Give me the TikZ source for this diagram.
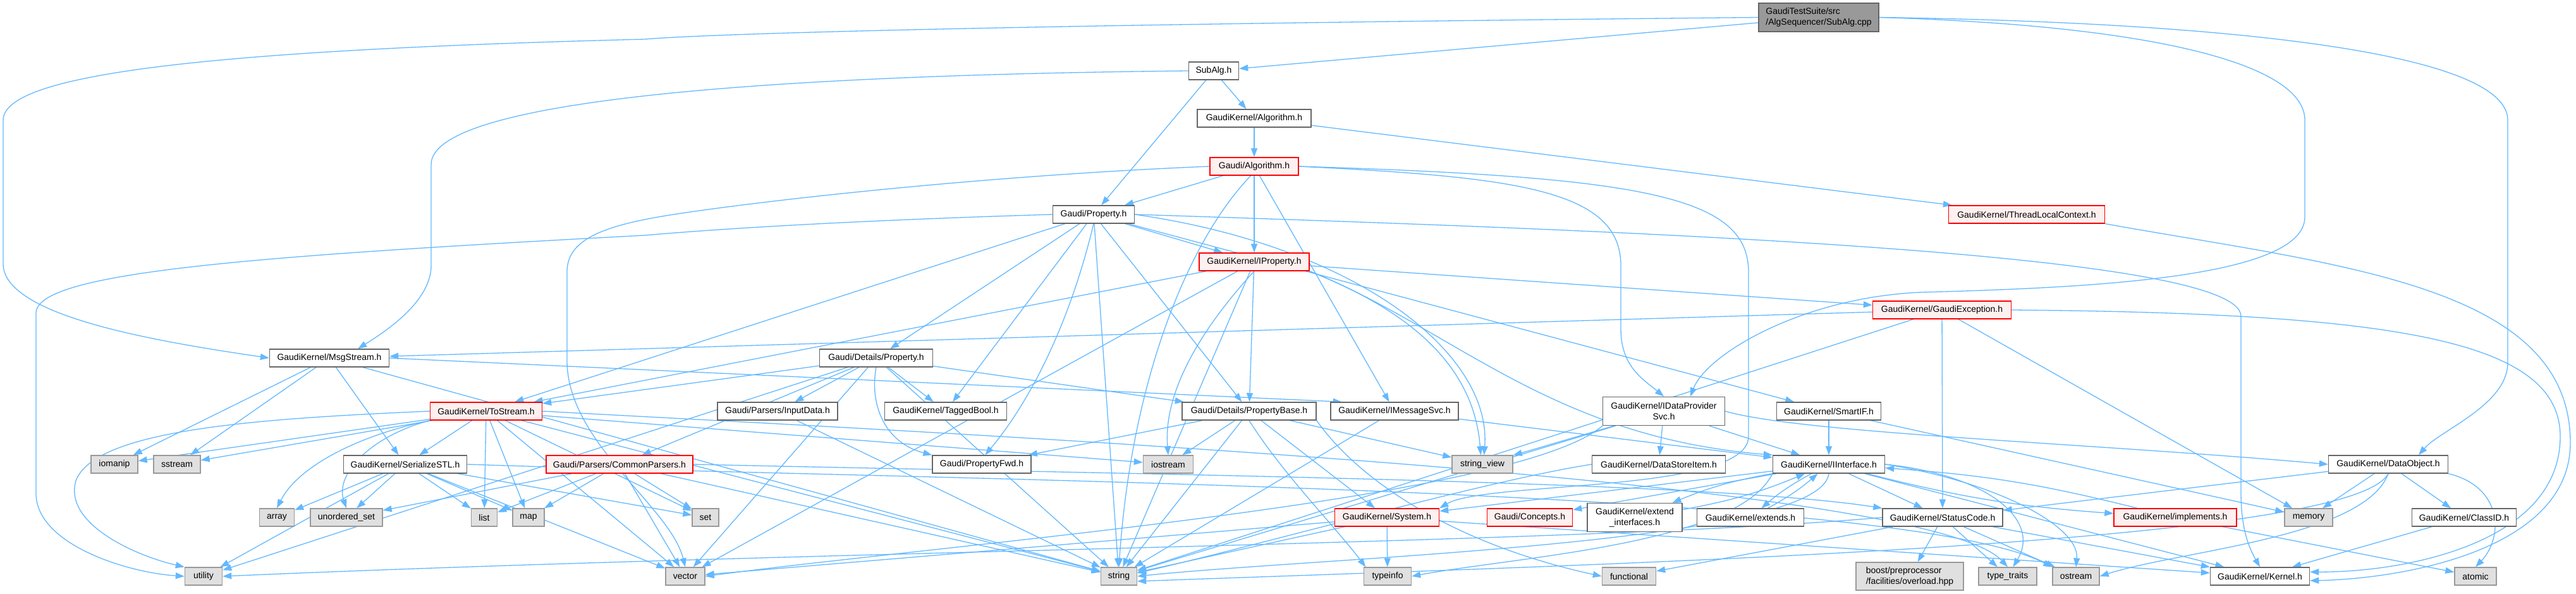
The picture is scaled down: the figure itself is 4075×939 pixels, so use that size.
\documentclass[tikz,border=0pt]{standalone}
\usepackage{fontspec}
\setmainfont{Liberation Sans}
\usetikzlibrary{arrows.meta}
\definecolor{cedge}{HTML}{63B8FF}
\definecolor{cdark}{HTML}{666666}
\definecolor{cmid}{HTML}{999999}
\definecolor{cgray}{HTML}{E0E0E0}
\definecolor{cred}{HTML}{FF0000}
\definecolor{cpink}{HTML}{FFF0F0}
\pgfdeclarelayer{bg}
\pgfsetlayers{bg,main}
\newcommand\dxfont{\fontsize{14}{17}\selectfont}
\begin{document}
\begin{tikzpicture}[x=1pt,y=-1pt,
  nb/.style={draw=cdark, fill=white, line width=1.4pt, font=\dxfont, text=black,
             minimum height=28pt, inner xsep=3pt, inner ysep=2pt},
  nr/.style={nb, draw=cred, fill=cpink},
  ng/.style={nb, draw=cmid, fill=cgray},
  nroot/.style={nb, draw=cdark, fill=cmid},
  e/.style={draw=cedge, line width=1.3pt, -{Triangle[length=14pt,width=10pt]}}]
\useasboundingbox (0,0) rectangle (4075,939);

\node[nroot, minimum width=190pt, minimum height=45pt, align=left] (root) at (2877,27.5) {GaudiTestSuite/src\\/AlgSequencer/SubAlg.cpp};
\node[nb, minimum width=79pt] (subalg) at (1920,112) {SubAlg.h};
\node[nb, minimum width=180pt] (gkalg) at (1984,187) {GaudiKernel/Algorithm.h};
\node[nr, minimum width=140pt] (galg) at (1984,263) {Gaudi/Algorithm.h};
\node[nb, minimum width=129pt] (prop) at (1730,339) {Gaudi/Property.h};
\node[nr, minimum width=247pt] (tlc) at (3206,339) {GaudiKernel/ThreadLocalContext.h};
\node[nr, minimum width=174pt] (iprop) at (1984,414) {GaudiKernel/IProperty.h};
\node[nr, minimum width=219pt] (gexc) at (3072,490) {GaudiKernel/GaudiException.h};
\node[nb, minimum width=189pt] (msg) at (521,566) {GaudiKernel/MsgStream.h};
\node[nb, minimum width=179pt] (dprop) at (1386,566) {Gaudi/Details/Property.h};
\node[nr, minimum width=177pt] (tostream) at (769,650) {GaudiKernel/ToStream.h};
\node[nb, minimum width=190pt] (inputdata) at (1230,650) {Gaudi/Parsers/InputData.h};
\node[nb, minimum width=193pt] (tagged) at (1496,650) {GaudiKernel/TaggedBool.h};
\node[nb, minimum width=212pt] (pbase) at (1976,650) {Gaudi/Details/PropertyBase.h};
\node[nb, minimum width=202pt] (imsg) at (2206,650) {GaudiKernel/IMessageSvc.h};
\node[nb, minimum width=193pt, minimum height=45pt, align=center] (idp) at (2632,650) {GaudiKernel/IDataProvider\\Svc.h};
\node[nb, minimum width=165pt] (smartif) at (2893,650) {GaudiKernel/SmartIF.h};
\node[ng, minimum width=74pt] (iomanip) at (181,734) {iomanip};
\node[ng, minimum width=74pt] (sstream) at (280,734) {sstream};
\node[nb, minimum width=195pt] (serial) at (641,734) {GaudiKernel/SerializeSTL.h};
\node[nr, minimum width=232pt] (cparsers) at (980,734) {Gaudi/Parsers/CommonParsers.h};
\node[nb, minimum width=156pt] (pfwd) at (1553,734) {Gaudi/PropertyFwd.h};
\node[ng, minimum width=79pt] (iostream) at (1848,734) {iostream};
\node[ng, minimum width=96pt] (strview) at (2345,734) {string\_view};
\node[nb, minimum width=211pt] (dsitem) at (2624,734) {GaudiKernel/DataStoreItem.h};
\node[nb, minimum width=177pt] (iiface) at (2893,734) {GaudiKernel/IInterface.h};
\node[nb, minimum width=189pt] (dobj) at (3778,734) {GaudiKernel/DataObject.h};
\node[ng, minimum width=55pt] (array) at (438,818) {array};
\node[ng, minimum width=114pt] (uset) at (548,818) {unordered\_set};
\node[ng, minimum width=41pt] (list) at (766,818) {list};
\node[ng, minimum width=50pt] (map) at (836,818) {map};
\node[ng, minimum width=42pt] (set) at (1116,818) {set};
\node[nr, minimum width=165pt] (system) at (2194,818) {GaudiKernel/System.h};
\node[nr, minimum width=135pt] (concepts) at (2420,818) {Gaudi/Concepts.h};
\node[nb, minimum width=150pt, minimum height=45pt, align=center] (extif) at (2586,818) {GaudiKernel/extend\\\_interfaces.h};
\node[nb, minimum width=169pt] (extends) at (2769,818) {GaudiKernel/extends.h};
\node[nb, minimum width=190pt] (status) at (3073,818) {GaudiKernel/StatusCode.h};
\node[nr, minimum width=194pt] (impl) at (3441,818) {GaudiKernel/implements.h};
\node[ng, minimum width=76pt] (memory) at (3652,818) {memory};
\node[nb, minimum width=165pt] (classid) at (3898,818) {GaudiKernel/ClassID.h};
\node[ng, minimum width=59pt] (utility) at (322,911) {utility};
\node[ng, minimum width=62pt] (vector) at (1084,911) {vector};
\node[ng, minimum width=57pt] (string) at (1770,911) {string};
\node[ng, minimum width=75pt] (typeinfo) at (2195,911) {typeinfo};
\node[ng, minimum width=85pt] (functional) at (2577,911) {functional};
\node[ng, minimum width=170pt, minimum height=44pt, align=left] (boost) at (3021,911) {boost/preprocessor\\/facilities/overload.hpp};
\node[ng, minimum width=92pt] (typetraits) at (3176,911) {type\_traits};
\node[ng, minimum width=74pt] (ostream) at (3284,911) {ostream};
\node[nb, minimum width=157pt] (kernel) at (3575,911) {GaudiKernel/Kernel.h};
\node[ng, minimum width=66pt] (atomic) at (3916,911) {atomic};

\begin{pgfonlayer}{bg}
% routed edges
\draw[e] (root.west) .. controls (1500,40) and (1100,55) .. (1020,62) .. controls (300,80) and (5,120) .. (5,190) -- (5,417) .. controls (5,500) and (250,540) .. (msg.west);
\draw[e] (subalg.west) .. controls (1300,118) and (682,150) .. (682,260) -- (682,420) .. controls (682,480) and (600,530) .. (msg.18);
\draw[e] (root.east) .. controls (3400,40) and (3646,100) .. (3646,190) -- (3646,343) .. controls (3646,440) and (3300,455) .. (3040,462) .. controls (2850,470) and (2700,560) .. (idp.29);
\draw[e] (root.east) .. controls (3500,35) and (3967,80) .. (3967,190) -- (3967,573) .. controls (3967,640) and (3860,680) .. (dobj.17);
\draw[e] (prop.west) .. controls (1300,350) and (1100,365) .. (1020,372) .. controls (400,405) and (57,430) .. (57,495) -- (57,780) .. controls (57,860) and (200,905) .. (utility.west);
\draw[e] (galg.west) .. controls (1500,280) and (1100,330) .. (1020,347) .. controls (930,365) and (897,390) .. (897,430) -- (897,570) .. controls (897,700) and (1060,800) .. (vector.north);
\draw[e] (galg.east) .. controls (2400,280) and (2564,300) .. (2564,420) -- (2564,520) .. controls (2564,580) and (2600,600) .. (idp.north);
\draw[e] (galg.east) .. controls (2600,280) and (2766,310) .. (2766,430) -- (2766,690) .. controls (2766,780) and (2350,760) .. (system.north east);
\draw[e] (galg.250) .. controls (1880,380) and (1790,600) .. (string.north);
\draw[e] (prop.east) .. controls (2600,365) and (3545,400) .. (3545,500) -- (3545,780) .. controls (3545,840) and (3560,870) .. (kernel.north);
\draw[e] (prop.east) .. controls (2150,390) and (2360,560) .. (strview.80);
\draw[e] (prop.south) .. controls (1690,520) and (1625,640) .. (pfwd.70);
\draw[e] (dprop.south) .. controls (1375,640) and (1400,700) .. (pfwd.north west);
\draw[e] (iprop.south east) .. controls (2200,480) and (2330,560) .. (strview.100);
\draw[e] (iprop.south east) .. controls (2300,520) and (2450,690) .. (iiface.north west);
\draw[e] (iprop.south) .. controls (1900,520) and (1840,620) .. (iostream.north);
\draw[e] (gexc.east) .. controls (3800,495) and (4050,540) .. (4050,690) .. controls (4050,860) and (3800,905) .. (kernel.5);
\draw[e] (tlc.south east) .. controls (3700,420) and (4066,450) .. (4066,700) .. controls (4066,870) and (3800,915) .. (kernel.-5);
\draw[e] (msg.east) -- (imsg.170);
\draw[e] (tostream.west) .. controls (400,662) and (150,680) .. (120,760) .. controls (100,830) and (220,880) .. (utility.north west);
\draw[e] (tostream.south west) .. controls (560,690) and (470,740) .. (array.north);
\draw[e] (tostream.south west) .. controls (585,690) and (530,750) .. (uset.north);
\draw[e] (tostream.east) .. controls (1600,690) and (3050,760) .. (typetraits.north);
\draw[e] (serial.east) .. controls (1500,760) and (3000,770) .. (ostream.north west);
\draw[e] (cparsers.east) .. controls (1800,750) and (2700,760) .. (status.north west);
\draw[e] (pbase.south) .. controls (2030,750) and (2110,830) .. (typeinfo.157);
\draw[e] (pbase.south east) .. controls (2150,760) and (2300,860) .. (functional.west);
\draw[e] (idp.east) .. controls (2850,685) and (3300,700) .. (dobj.west);
\draw[e] (idp.south west) .. controls (2400,790) and (1500,860) .. (vector.east);
\draw[e] (dsitem.west) .. controls (2350,760) and (2000,860) .. (string.10);
\draw[e] (iiface.south) .. controls (2880,860) and (2100,880) .. (string.east);
\draw[e] (iiface.south west) .. controls (2750,860) and (2400,880) .. (typeinfo.east);
\draw[e] (iiface.east) .. controls (3150,760) and (3290,830) .. (ostream.north);
\draw[e] (iiface.east) .. controls (3140,750) and (3230,820) .. (typetraits.60);
\draw[e] (status.west) .. controls (2500,860) and (1300,870) .. (utility.east);
\draw[e] (dobj.south) .. controls (3740,850) and (3450,870) .. (ostream.east);
\draw[e] (dobj.south) .. controls (3720,860) and (2600,890) .. (string.-15);
\draw[e] (dobj.south east) .. controls (3960,770) and (3960,850) .. (atomic.north);
% straight edges
\draw[e] (root) -- (subalg);
\draw[e] (subalg) -- (gkalg);
\draw[e] (subalg) -- (prop);
\draw[e] (gkalg) -- (galg);
\draw[e] (gkalg) -- (tlc);
\draw[e] (galg) -- (prop);
\draw[e] (galg) -- (iprop);
\draw[e] (galg) -- (imsg);
\foreach \tg in {iprop,dprop,pbase,tagged,tostream,smartif,string} \draw[e] (prop) -- (\tg);
\foreach \tg in {tagged,inputdata,tostream,pbase,cparsers,utility,string,vector} \draw[e] (dprop) -- (\tg);
\foreach \tg in {pbase,gexc,string,vector,tostream} \draw[e] (iprop) -- (\tg);
\foreach \tg in {msg,status,memory,string} \draw[e] (gexc) -- (\tg);
\foreach \tg in {iomanip,sstream,serial,string} \draw[e] (msg) -- (\tg);
\foreach \tg in {iomanip,sstream,serial,list,map,set,vector,string,iostream} \draw[e] (tostream) -- (\tg);
\foreach \tg in {array,uset,list,map,set,vector,utility} \draw[e] (serial) -- (\tg);
\foreach \tg in {list,map,set,uset,vector,string} \draw[e] (cparsers) -- (\tg);
\draw[e] (inputdata) -- (string);
\foreach \tg in {pfwd,iostream,string,strview,system} \draw[e] (pbase) -- (\tg);
\foreach \tg in {iiface,string} \draw[e] (imsg) -- (\tg);
\foreach \tg in {strview,dsitem,iiface,string} \draw[e] (idp) -- (\tg);
\foreach \tg in {iiface,memory} \draw[e] (smartif) -- (\tg);
\foreach \tg in {system,concepts,status,kernel} \draw[e] (iiface) -- (\tg);
\draw[e] (iiface) to[bend right=6] (extif);
\draw[e] (extif) to[bend right=6] (iiface);
\draw[e] (iiface) to[bend right=6] (extends);
\draw[e] (extends) to[bend right=6] (iiface);
\draw[e] (iiface) to[bend right=5] (impl);
\draw[e] (impl) to[bend right=5] (iiface);
\draw[e] (impl) -- (atomic);
\foreach \tg in {typeinfo,string,vector,kernel} \draw[e] (system) -- (\tg);
\foreach \tg in {boost,typetraits,ostream,kernel,functional} \draw[e] (status) -- (\tg);
\foreach \tg in {status,memory,classid} \draw[e] (dobj) -- (\tg);
\draw[e] (classid) -- (kernel);
\end{pgfonlayer}
\end{tikzpicture}
\end{document}
